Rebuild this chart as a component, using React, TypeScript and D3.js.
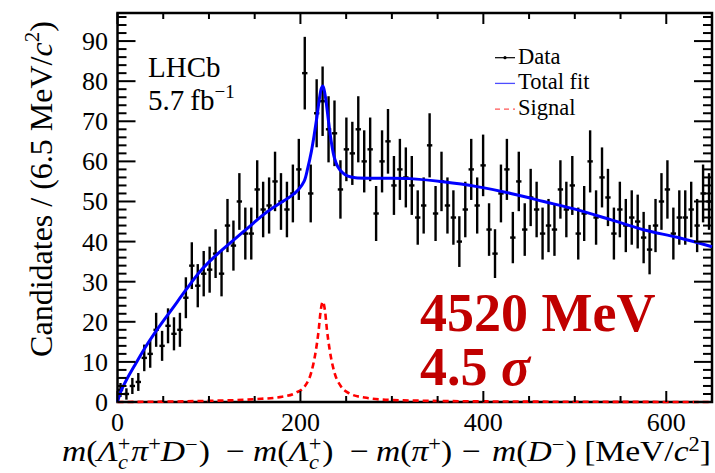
import React from 'react';
import * as d3 from 'd3';

const W = 715;
const H = 473;

// bins of 6.5 MeV from 0 to 650
const binWidth = 6.5;
const counts = [
  3, 2, 4, 5, 11, 12, 18, 14, 19, 17,
  18, 26, 34, 29, 32, 33, 37, 32, 44, 39,
  50, 42, 42, 53, 48, 49, 55, 50, 48, 52,
  58, 82, 52, 72, 75, 68, 67, 53, 63, 62,
  68, 60, 63, 47, 60, 65, 54, 58, 56, 54,
  46, 49, 64, 47, 55, 49, 46, 40, 48, 58,
  49, 59, 43, 37, 52, 58, 41, 55, 43, 51,
  48, 42, 44, 43, 53, 48, 54, 42, 47, 60,
  46, 56, 51, 42, 48, 44, 46, 45, 41, 38,
  44, 50, 53, 42, 46, 46, 48, 44, 52, 50,
];

// total fit
const fitMass = [0, 4, 10, 20, 32, 45, 60, 75, 90, 105, 124, 142, 160, 175, 190, 198, 204, 208, 212, 215, 218, 221, 223, 224.5, 226, 228, 231, 234, 237, 241, 246, 252, 260, 290, 320, 356, 393, 430, 466, 503, 540, 576, 613, 650];
const fitValue = [0, 2.8, 5.6, 9.6, 14.2, 18.6, 23.3, 28, 32.5, 36, 39.8, 43.3, 46.8, 49.2, 51.4, 53, 55, 58.3, 62.5, 66.5, 71, 76, 78.3, 78.8, 77.8, 75, 69.5, 64.5, 61, 58.6, 57.2, 56.3, 55.9, 55.8, 55.7, 54.9, 53.7, 52, 50, 47.9, 45.4, 42.9, 41, 38.7];

// signal component
const sigMass = [0, 100, 150, 180, 195, 205, 212, 217, 220, 222, 224.5, 227, 229, 232, 237, 244, 253, 270, 300, 400, 650];
const sigValue = [0, 0.3, 0.7, 1.3, 2.3, 4, 7.5, 13, 18, 22.5, 25, 22.5, 18, 13, 7.5, 4, 2.2, 1.1, 0.5, 0.15, 0];

const xTicks = [0, 200, 400, 600];
const yTicks = [0, 10, 20, 30, 40, 50, 60, 70, 80, 90];
const legendLabels = ['Data', 'Total fit', 'Signal'];

const serif = "'Liberation Serif', 'Times New Roman', serif";

export default function App() {
  React.useEffect(() => {
    document.body.style.margin = '0';
  }, []);

  const x = d3.scaleLinear().domain([0, 650]).range([117.5, 712]);
  const y = d3.scaleLinear().domain([0, 97]).range([402, 13]);
  const [x0, x1] = x.range();
  const [y0, y1] = y.range();

  const line = d3
    .line<[number, number]>()
    .x((d) => x(d[0]))
    .y((d) => y(d[1]))
    .curve(d3.curveCatmullRom);

  const fitPath = line(fitMass.map((m, i) => [m, fitValue[i]]) as [number, number][]) || '';
  const sigPath = line
    .curve(d3.curveMonotoneX)(sigMass.map((m, i) => [m, sigValue[i]]) as [number, number][]) || '';

  const xMinor = d3.range(0, 651, 50).filter((v) => !xTicks.includes(v));
  const yMinor = d3.range(0, 97, 2).filter((v) => !yTicks.includes(v));

  const tick = { stroke: '#000', strokeWidth: 2 };
  const sup = { fontSize: 20, dy: -10 };
  // the x title in the original is drawn slightly wide
  const tx = (gx: number) => `translate(${gx},461) scale(1.12,1)`;

  return (
    <svg width={W} height={H} style={{ display: 'block', background: '#fff' }} fontFamily={serif}>
      {/* data points with poisson errors */}
      <g stroke="#000" strokeWidth={2.4}>
        {counts.map((n, i) => {
          const c = (i + 0.5) * binWidth;
          const e = Math.sqrt(n);
          return (
            <g key={i}>
              <line x1={x(c)} x2={x(c)} y1={y(n - e)} y2={y(n + e)} />
              <line x1={x(c - binWidth / 2) + 0.3} x2={x(c + binWidth / 2) - 0.3} y1={y(n)} y2={y(n)} />
            </g>
          );
        })}
      </g>

      {/* frame */}
      <rect x={x0} y={y1} width={x1 - x0} height={y0 - y1} fill="none" stroke="#000" strokeWidth={2.5} />

      <path d={sigPath} fill="none" stroke="#ff0000" strokeWidth={2.6} strokeDasharray="6,4" />
      <path d={fitPath} fill="none" stroke="#0000ff" strokeWidth={3} />

      {/* x ticks, bottom and top */}
      {xTicks.map((v) => (
        <g key={'xt' + v}>
          <line x1={x(v)} x2={x(v)} y1={y0} y2={y0 - 11} {...tick} />
          <line x1={x(v)} x2={x(v)} y1={y1} y2={y1 + 11} {...tick} />
          <text x={x(v)} y={431} textAnchor="middle" fontSize={26}>{v}</text>
        </g>
      ))}
      {xMinor.map((v) => (
        <g key={'xm' + v}>
          <line x1={x(v)} x2={x(v)} y1={y0} y2={y0 - 6} {...tick} />
          <line x1={x(v)} x2={x(v)} y1={y1} y2={y1 + 6} {...tick} />
        </g>
      ))}

      {/* y ticks, left and right */}
      {yTicks.map((v) => (
        <g key={'yt' + v}>
          <line x1={x0} x2={x0 + 18} y1={y(v)} y2={y(v)} {...tick} />
          <line x1={x1} x2={x1 - 18} y1={y(v)} y2={y(v)} {...tick} />
          <text x={108} y={y(v) + 9} textAnchor="end" fontSize={26}>{v}</text>
        </g>
      ))}
      {yMinor.map((v) => (
        <g key={'ym' + v}>
          <line x1={x0} x2={x0 + 9} y1={y(v)} y2={y(v)} {...tick} />
          <line x1={x1} x2={x1 - 9} y1={y(v)} y2={y(v)} {...tick} />
        </g>
      ))}

      {/* axis titles */}
      <text transform="translate(52,189) rotate(-90)" textAnchor="middle" fontSize={32}>
        Candidates / (6.5 MeV/<tspan fontStyle="italic">c</tspan>
        <tspan fontSize={21} dy={-13}>2</tspan>
        <tspan dy={13}>)</tspan>
      </text>

      <g fontSize={30}>
        <text transform={tx(62)}>
          <tspan fontStyle="italic">m</tspan>(<tspan fontStyle="italic">Λ</tspan>
          <tspan {...sup}>+</tspan>
          <tspan fontSize={20} fontStyle="italic" dx={-11} dy={18}>c</tspan>
          <tspan fontStyle="italic" dx={3} dy={-8}>π</tspan>
          <tspan {...sup}>+</tspan>
          <tspan fontStyle="italic" dy={10}>D</tspan>
          <tspan {...sup}>−</tspan>
          <tspan dx={1} dy={10}>)</tspan>
        </text>
        <text transform={tx(226)}>−</text>
        <text transform={tx(253)}>
          <tspan fontStyle="italic">m</tspan>(<tspan fontStyle="italic">Λ</tspan>
          <tspan {...sup}>+</tspan>
          <tspan fontSize={20} fontStyle="italic" dx={-11} dy={18}>c</tspan>
          <tspan dx={3} dy={-8}>)</tspan>
        </text>
        <text transform={tx(350)}>−</text>
        <text transform={tx(376)}>
          <tspan fontStyle="italic">m</tspan>(<tspan fontStyle="italic">π</tspan>
          <tspan {...sup}>+</tspan>
          <tspan dy={10}>)</tspan>
        </text>
        <text transform={tx(462)}>−</text>
        <text transform={tx(492)}>
          <tspan fontStyle="italic">m</tspan>(<tspan fontStyle="italic">D</tspan>
          <tspan {...sup}>−</tspan>
          <tspan dx={1} dy={10}>)</tspan>
        </text>
        <text transform={tx(711)} textAnchor="end">
          [MeV/<tspan fontStyle="italic">c</tspan>
          <tspan {...sup}>2</tspan>
          <tspan dy={10}>]</tspan>
        </text>
      </g>

      {/* LHCb label */}
      <text x={148} y={77} fontSize={29}>LHCb</text>
      <text x={148} y={110} fontSize={29}>
        5.7<tspan dx={6}>fb</tspan>
        <tspan fontSize={19} dy={-12}>−1</tspan>
      </text>

      {/* legend */}
      <g fontSize={22.5}>
        {legendLabels.map((lab, i) => {
          const ly = 57.7 + i * 25.7;
          return (
            <g key={lab}>
              {i === 0 && (
                <>
                  <line x1={495} x2={515} y1={ly} y2={ly} stroke="#000" strokeWidth={1.2} />
                  <circle cx={505} cy={ly} r={1.6} fill="#000" />
                </>
              )}
              {i === 1 && <line x1={495} x2={515} y1={ly} y2={ly} stroke="#4d4dff" strokeWidth={1.3} />}
              {i === 2 && (
                <line x1={495} x2={515} y1={ly} y2={ly} stroke="#ff5555" strokeWidth={1.3} strokeDasharray="5,4" />
              )}
              <text x={518} y={ly + 6} fill="#000">{lab}</text>
            </g>
          );
        })}
      </g>

      {/* result annotation */}
      <g fill="#c00000" fontWeight="bold" fontSize={54}>
        <text x={420} y={331}>4520 MeV</text>
        <text x={420} y={385}>
          4.5 <tspan fontStyle="italic">σ</tspan>
        </text>
      </g>
    </svg>
  );
}
